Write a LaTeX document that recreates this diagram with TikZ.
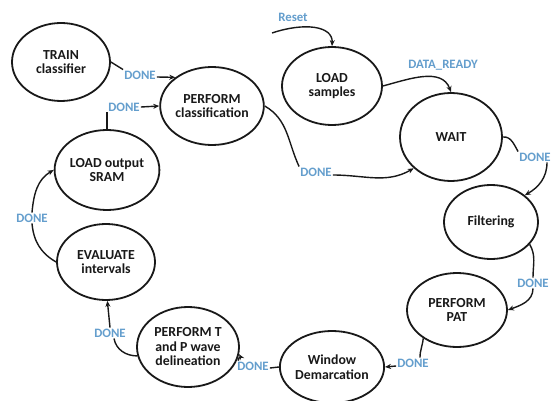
\documentclass[tikz,border=0pt]{standalone}
\usepackage{fontspec}
\setmainfont{Carlito}
\usetikzlibrary{shapes.geometric,arrows.meta}
\definecolor{lbl}{RGB}{100,158,205}
\definecolor{ink}{RGB}{25,25,25}
\begin{document}
\begin{tikzpicture}[x=1pt,y=-1pt,
 st/.style={ellipse,draw=ink,line width=1.8pt,inner sep=0pt,align=center,text=ink,
   font=\bfseries\fontsize{13.8}{14.5}\selectfont},
 lb/.style={text=lbl,font=\bfseries\fontsize{12.8}{13}\selectfont,inner sep=1pt},
 cn/.style={draw=ink,line width=1.4pt},
 ar/.style={cn,-{Stealth[length=6pt,width=5pt]}}]
\useasboundingbox[fill=white] (0,0) rectangle (554,401);

% states
\node[st,minimum width=98,minimum height=78] (train) at (61,62) {TRAIN\\classifier};
\node[st,minimum width=100,minimum height=78] (pc) at (212,106) {PERFORM\\classification};
\node[st,minimum width=100,minimum height=78] (ls) at (332,86) {LOAD\\samples};
\node[st,minimum width=102,minimum height=88] (wait) at (451,137) {WAIT};
\node[st,minimum width=94,minimum height=74] (filt) at (491,222) {Filtering};
\node[st,minimum width=100,minimum height=74] (pat) at (457,310) {PERFORM\\PAT};
\node[st,minimum width=100,minimum height=72] (win) at (332,367) {Window\\Demarcation};
\node[st,minimum width=102,minimum height=80] (pt) at (188,347) {PERFORM T\\and P wave\\delineation};
\node[st,minimum width=98,minimum height=76] (eval) at (106,262) {EVALUATE\\intervals};
\node[st,minimum width=100,minimum height=80] (sram) at (107,170) {LOAD output\\SRAM};

% labels
\node[lb] (lreset) at (293,17) {Reset};
\node[lb] (ldr) at (443,65) {DATA\_READY};
\node[lb] (d1) at (535,157) {DONE};
\node[lb] (d2) at (533,283) {DONE};
\node[lb] (d3) at (413,363) {DONE};
\node[lb] (d4) at (253,366) {DONE};
\node[lb] (d5) at (110,333) {DONE};
\node[lb] (d6) at (32,218) {DONE};
\node[lb] (d7) at (124,107) {DONE};
\node[lb] (d8) at (140,75) {DONE};
\node[lb] (d9) at (316,172) {DONE};

\coordinate (rst) at (272,33);

% transitions
\draw[ar] (rst) .. controls (305,22) and (333,26) .. (ls.north);
\draw[ar] (ls.east) to[out=15,in=110] (wait.north);
\draw[cn] (wait.east) to[out=5,in=120] (d1.north west);
\draw[ar] ([xshift=12]d1.south) to[out=-90,in=30] (filt.north east);
\draw[cn] (filt.-30) to[out=-60,in=90] (d2.north);
\draw[ar] (d2.south) to[out=-90,in=20] (pat.east);
\draw[cn] (pat.220) to[out=-95,in=90] ([xshift=7]d3.north);
\draw[ar] ([yshift=-3]d3.west) -- (win.east);
\draw[cn] (win.west) -- ([yshift=-2]d4.east);
\draw[ar] ([xshift=2]d4.north west) to[out=100,in=-60] (pt.-8);
\draw[cn] (pt.190) to[out=180,in=-80] ([xshift=4]d5.south);
\draw[ar] (d5.north) -- (eval.-88);
\draw[cn] (eval.west) to[out=150,in=-85] (d6.south);
\draw[ar] (d6.north) to[out=85,in=210] (sram.west);
\draw[cn] (sram.north) -- (sram.north |- d7.south);
\draw[ar] (d7.east) -- (pc.west);
\draw[cn] (train.east) -- (d8.north west);
\draw[ar] ([yshift=-2]d8.east) -- (pc.142);
\draw[cn] (pc.east) to[out=-30,in=115] (d9.north west);
\draw[ar] ([yshift=-3]d9.east) to[out=0,in=-150] (wait.-140);
\end{tikzpicture}
\end{document}
